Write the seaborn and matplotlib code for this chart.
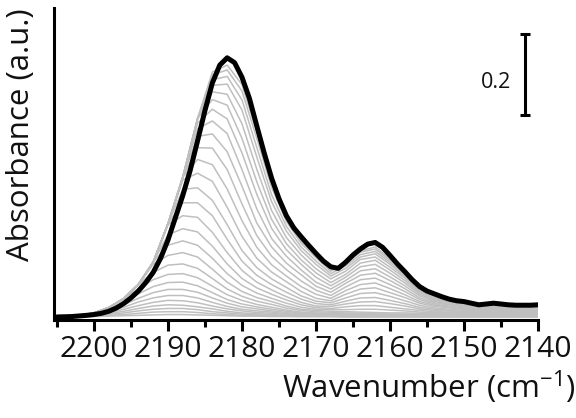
import matplotlib
matplotlib.use('Agg')
import matplotlib.pyplot as plt
from matplotlib.ticker import MultipleLocator
import pandas as pd
import seaborn as sns

# ---- data ----
# grey spectra: one row per spectrum, absorbance in units of 0.001
gray_wn = [2205, 2202, 2200, 2198, 2196, 2194, 2192, 2190, 2188, 2186, 2184, 2182, 2180, 2178, 2176,
           2174, 2172, 2170, 2168, 2166, 2164, 2162, 2160, 2158, 2156, 2154, 2150, 2146, 2140]
gray_mabs = [
    [0, 0, 1, 2, 3, 4, 5, 6, 6, 5, 4, 3, 2, 2, 1, 1, 1, 1, 1, 0, 0, 0, 0, 0, 0, 0, 0, 0, 0],
    [0, 1, 2, 4, 6, 9, 12, 13, 13, 11, 8, 6, 4, 3, 3, 2, 1, 1, 1, 1, 1, 1, 1, 1, 1, 1, 1, 1, 1],
    [0, 1, 3, 6, 10, 15, 19, 21, 21, 18, 13, 10, 7, 6, 4, 3, 2, 2, 2, 1, 1, 1, 1, 1, 1, 1, 1, 1, 1],
    [0, 1, 3, 8, 14, 21, 27, 30, 29, 25, 20, 14, 10, 8, 6, 4, 3, 3, 2, 2, 2, 2, 2, 2, 1, 1, 1, 1, 1],
    [0, 2, 5, 10, 19, 28, 36, 41, 40, 35, 27, 20, 15, 11, 9, 6, 4, 4, 3, 3, 3, 2, 2, 2, 2, 2, 2, 2, 2],
    [0, 2, 6, 13, 24, 37, 47, 53, 53, 47, 36, 26, 19, 15, 12, 8, 6, 5, 4, 4, 3, 3, 3, 3, 3, 3, 2, 2, 2],
    [0, 2, 7, 16, 30, 46, 60, 68, 68, 61, 47, 34, 25, 20, 15, 11, 8, 6, 6, 5, 4, 4, 4, 4, 3, 3, 3, 3, 3],
    [0, 3, 8, 19, 36, 57, 75, 85, 86, 77, 60, 43, 32, 25, 19, 14, 10, 8, 7, 6, 6, 5, 5, 5, 4, 4, 4, 4, 4],
    [0, 3, 10, 23, 44, 70, 92, 105, 107, 97, 76, 55, 41, 31, 24, 17, 12, 10, 9, 8, 7, 6, 6, 6, 5, 5, 5, 5, 5],
    [0, 3, 10, 23, 45, 80, 110, 128, 131, 120, 95, 69, 51, 39, 31, 22, 16, 13, 11, 10, 9, 8, 7, 7, 7, 6, 6, 6, 6],
    [0, 3, 10, 23, 45, 80, 130, 152, 159, 148, 118, 86, 63, 48, 38, 27, 19, 16, 14, 13, 12, 11, 10, 10, 9, 8, 7, 7, 7],
    [0, 3, 10, 23, 45, 80, 135, 177, 188, 177, 145, 107, 78, 59, 46, 34, 24, 19, 18, 18, 19, 19, 17, 15, 12, 11, 9, 8, 8],
    [0, 3, 10, 23, 45, 80, 135, 203, 218, 210, 175, 131, 95, 72, 56, 42, 30, 23, 21, 25, 28, 28, 24, 20, 16, 13, 11, 10, 9],
    [0, 3, 10, 23, 45, 80, 135, 228, 250, 246, 209, 159, 115, 86, 67, 50, 36, 27, 26, 32, 37, 38, 33, 27, 20, 16, 13, 11, 11],
    [0, 3, 10, 23, 45, 80, 135, 230, 282, 282, 250, 192, 138, 103, 80, 61, 44, 33, 30, 39, 47, 48, 41, 33, 24, 19, 14, 13, 13],
    [0, 3, 10, 23, 45, 80, 135, 230, 315, 319, 288, 228, 164, 122, 94, 73, 52, 39, 35, 47, 58, 60, 51, 40, 29, 22, 16, 15, 14],
    [0, 3, 10, 23, 45, 80, 135, 230, 338, 355, 335, 271, 199, 145, 111, 87, 63, 46, 40, 56, 69, 72, 60, 48, 34, 26, 19, 16, 16],
    [0, 3, 10, 23, 45, 80, 135, 230, 345, 389, 376, 316, 238, 172, 129, 101, 75, 56, 46, 65, 80, 84, 70, 55, 38, 29, 20, 18, 17],
    [0, 3, 10, 23, 45, 80, 135, 230, 345, 418, 417, 364, 279, 201, 150, 117, 89, 66, 53, 74, 92, 96, 80, 63, 43, 32, 22, 19, 19],
    [0, 3, 10, 23, 45, 80, 135, 230, 345, 446, 452, 408, 323, 232, 173, 133, 104, 76, 61, 83, 103, 108, 90, 70, 47, 35, 25, 21, 20],
    [0, 3, 10, 23, 45, 80, 135, 230, 345, 465, 484, 453, 364, 267, 194, 150, 116, 86, 69, 90, 114, 119, 99, 77, 52, 38, 26, 23, 22],
    [0, 3, 10, 23, 45, 80, 135, 230, 345, 479, 513, 489, 405, 303, 219, 166, 130, 98, 77, 98, 124, 130, 108, 84, 56, 41, 28, 24, 23],
    [0, 3, 10, 23, 45, 80, 135, 230, 345, 490, 537, 523, 441, 334, 241, 181, 141, 109, 85, 105, 133, 140, 116, 90, 60, 43, 30, 25, 24],
    [0, 3, 10, 23, 45, 80, 135, 230, 345, 490, 556, 550, 477, 365, 263, 196, 153, 119, 94, 113, 142, 148, 123, 96, 63, 46, 31, 26, 25],
    [0, 3, 10, 23, 45, 80, 135, 230, 345, 490, 572, 575, 511, 395, 285, 212, 164, 130, 101, 120, 148, 156, 130, 100, 66, 48, 33, 28, 26],
    [0, 3, 10, 23, 45, 80, 135, 230, 345, 490, 586, 594, 536, 419, 302, 224, 173, 138, 107, 126, 154, 162, 135, 104, 69, 49, 33, 28, 27],
    [0, 3, 10, 23, 45, 80, 135, 230, 345, 490, 598, 610, 558, 441, 320, 236, 182, 146, 113, 131, 160, 168, 140, 108, 71, 51, 34, 29, 28],
    [0, 3, 10, 23, 45, 80, 135, 230, 345, 490, 605, 622, 574, 456, 331, 243, 187, 150, 116, 135, 163, 173, 144, 111, 72, 52, 35, 30, 28],
]

# final (black) spectrum
black_wn = [2205, 2203, 2201, 2200, 2199, 2198, 2197, 2196, 2195, 2194, 2193, 2192, 2191, 2190, 2189,
            2188, 2187, 2186, 2185, 2184, 2183, 2182, 2181, 2180, 2179, 2178, 2177, 2176, 2175, 2174,
            2173, 2172, 2171, 2170, 2169, 2168, 2167, 2166, 2165, 2164, 2163, 2162, 2161, 2160, 2159,
            2158, 2157, 2156, 2155, 2154, 2153, 2152, 2151, 2150, 2149, 2148, 2147, 2146, 2145, 2144,
            2143, 2142, 2141, 2140]
black_abs = [0.000, 0.001, 0.004, 0.006, 0.009, 0.014, 0.022, 0.033, 0.047, 0.064, 0.085, 0.110, 0.145, 0.190, 0.245,
             0.300, 0.362, 0.435, 0.510, 0.578, 0.622, 0.640, 0.628, 0.592, 0.540, 0.472, 0.405, 0.343, 0.292, 0.250,
             0.220, 0.198, 0.177, 0.157, 0.138, 0.124, 0.120, 0.135, 0.153, 0.168, 0.180, 0.184, 0.172, 0.152, 0.131,
             0.112, 0.092, 0.075, 0.064, 0.057, 0.050, 0.044, 0.040, 0.038, 0.034, 0.030, 0.032, 0.034, 0.032, 0.030,
             0.029, 0.029, 0.029, 0.030]

# scale bar (absorbance units)
bar_wn = 2141.8
bar_center = 0.599
bar_size = 0.2
bar_label = '0.2'

x_ticks = [2200, 2190, 2180, 2170, 2160, 2150, 2140]

# long table for seaborn
rows = []
for i, spec in enumerate(gray_mabs):
    for w, v in zip(gray_wn, spec):
        rows.append((i, w, v / 1000))
df_gray = pd.DataFrame(rows, columns=['spectrum', 'wavenumber', 'absorbance'])
df_black = pd.DataFrame({'wavenumber': black_wn, 'absorbance': black_abs})

# ---- plot ----
sns.set_style('ticks')
plt.rcParams['font.family'] = ['Open Sans', 'DejaVu Sans']
plt.rcParams['mathtext.default'] = 'regular'

fig = plt.figure(figsize=(5.76, 4.18), dpi=100)
ax = fig.add_axes([54 / 576, 98 / 418, 484 / 576, 312 / 418])

sns.lineplot(data=df_gray, x='wavenumber', y='absorbance', units='spectrum', estimator=None,
             color='#bfbfbf', linewidth=1.1, legend=False, ax=ax)
sns.lineplot(data=df_black, x='wavenumber', y='absorbance', color='black', linewidth=3.6, ax=ax)

# scale bar
ax.errorbar([bar_wn], [bar_center], yerr=bar_size / 2, fmt='none', ecolor='black',
            elinewidth=2.2, capsize=3.6, capthick=2.2)
ax.text(bar_wn + 1.8, bar_center - 0.02, bar_label, ha='right', va='center', fontsize=15.5,
        color='#111111')

ax.set_xlim(2205.4, 2140)
ax.set_ylim(-0.0075, 0.763)
ax.set_xticks(x_ticks)
ax.xaxis.set_minor_locator(MultipleLocator(5))
ax.set_yticks([])

for side in ['top', 'right']:
    ax.spines[side].set_visible(False)
for side in ['left', 'bottom']:
    ax.spines[side].set_linewidth(2.2)
    ax.spines[side].set_color('black')

ax.tick_params(axis='x', which='major', length=8, width=2.2, direction='out',
               labelsize=21.5, pad=3, color='black', labelcolor='#111111')
ax.tick_params(axis='x', which='minor', length=5, width=2.2, direction='out', color='black')

ax.set_xlabel('Wavenumber (cm$^{-1}$)', fontsize=22.5, ha='right', color='#111111')
ax.xaxis.set_label_coords((575 - 54) / 484, -48 / 312)
ax.set_ylabel('Absorbance (a.u.)', fontsize=22.5, color='#111111')
ax.yaxis.set_label_coords(-18 / 484, 185 / 312)

fig.savefig('out.png', dpi=100)
